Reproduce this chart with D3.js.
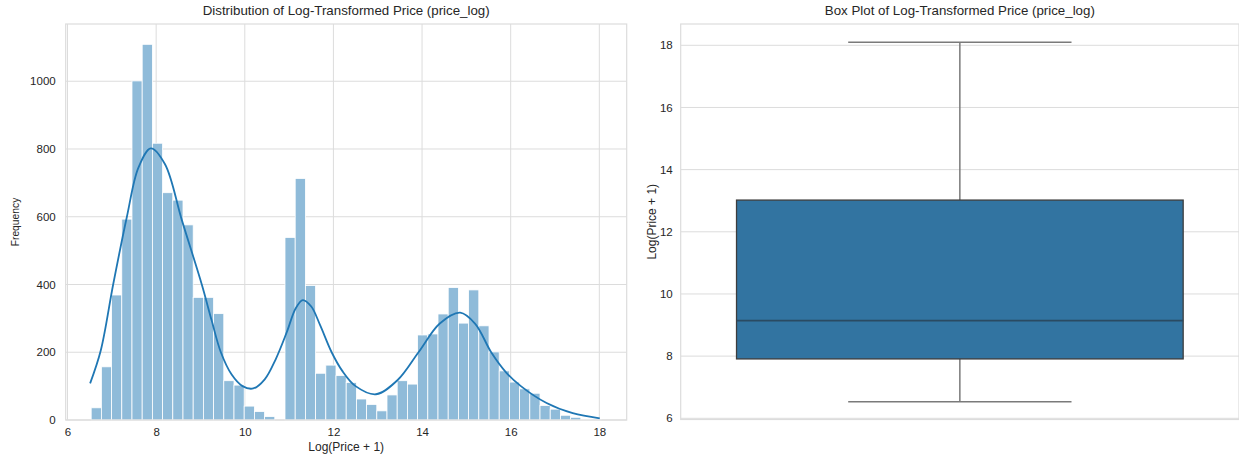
<!DOCTYPE html>
<html>
<head>
<meta charset="utf-8">
<script src="https://cdn.jsdelivr.net/npm/d3@7"></script>
<style>
  html, body { margin: 0; padding: 0; background: #fff; }
  svg { display: block; font-family: "Liberation Sans", Arial, sans-serif; }
</style>
</head>
<body>
<svg id="chart" width="1239" height="456"></svg>
<script>
// ---------- DATA ----------
const binStart = 6.534;
const binEnd = 18.043;
const histCounts = [36, 157, 369, 593, 1001, 1109, 817, 671, 649, 576,
                    362, 362, 314, 116, 103, 41, 25, 10, 0, 539,
                    713, 397, 138, 162, 131, 111, 62, 46, 27, 74,
                    116, 106, 251, 254, 313, 391, 286, 384, 278, 201,
                    145, 112, 92, 79, 43, 32, 14, 8, 2, 1];
const kdeX = [6.51, 6.75, 7.03, 7.34, 7.6, 7.88, 8.2, 8.58, 9.03, 9.25, 9.46, 9.7, 9.95, 10.19,
              10.45, 10.7, 10.95, 11.15, 11.31, 11.5, 11.7, 11.96, 12.2, 12.5, 12.96,
              13.45, 13.92, 14.4, 14.86, 15.2, 15.56, 15.9, 16.23, 16.81, 17.4, 18.01];
const kdeY = [108, 205, 400, 600, 745, 802, 755, 590, 400, 295, 200, 135, 100, 93,
              120, 180, 260, 330, 354, 335, 280, 200, 145, 100, 76,
              118, 200, 285, 317, 284, 200, 140, 100, 50, 20, 5];
const histXTicks = [6, 8, 10, 12, 14, 16, 18];
const histYTicks = [0, 200, 400, 600, 800, 1000];
const boxCategory = ["price_log"];
const boxStats = { min: 6.53, q1: 7.91, median: 9.14, q3: 13.02, max: 18.1 };
const boxYTicks = [6, 8, 10, 12, 14, 16, 18];
const titles = ["Distribution of Log-Transformed Price (price_log)", "Box Plot of Log-Transformed Price (price_log)"];
const xLabel = "Log(Price + 1)";
const yLabelHist = "Frequency";
const yLabelBox = "Log(Price + 1)";

// ---------- STYLE ----------
const gridColor = "#dcdcdc";
const textColor = "#262626";
const barFill = "#8fbbd9";
const lineColor = "#1f77b4";
const boxFill = "#3274a1";

const svg = d3.select("#chart");

// ---------- HISTOGRAM ----------
const H = { left: 65.7, right: 626.7, top: 24, bottom: 420 };
const x = d3.scaleLinear().domain([5.959, 18.618]).range([H.left, H.right]);
const y = d3.scaleLinear().domain([0, 1169]).range([H.bottom, H.top]);

const g1 = svg.append("g");
g1.append("g").selectAll("line").data(histXTicks).join("line")
  .attr("x1", d => x(d)).attr("x2", d => x(d)).attr("y1", H.top).attr("y2", H.bottom)
  .attr("stroke", gridColor).attr("stroke-width", 1);
g1.append("g").selectAll("line").data(histYTicks).join("line")
  .attr("x1", H.left).attr("x2", H.right).attr("y1", d => y(d)).attr("y2", d => y(d))
  .attr("stroke", gridColor).attr("stroke-width", 1);

const binW = (binEnd - binStart) / histCounts.length;
g1.append("g").selectAll("rect").data(histCounts).join("rect")
  .attr("x", (d, i) => x(binStart + i * binW))
  .attr("width", (d, i) => x(binStart + (i + 1) * binW) - x(binStart + i * binW))
  .attr("y", d => y(d))
  .attr("height", d => y(0) - y(d))
  .attr("fill", barFill)
  .attr("stroke", "#ffffff").attr("stroke-width", 0.8)
  .attr("display", d => d > 0 ? null : "none");

const kde = kdeX.map((v, i) => [v, kdeY[i]]);
g1.append("path").datum(kde)
  .attr("d", d3.line().x(d => x(d[0])).y(d => y(d[1])).curve(d3.curveCatmullRom.alpha(0.5)))
  .attr("fill", "none").attr("stroke", lineColor).attr("stroke-width", 1.8);

g1.append("rect").attr("x", H.left).attr("y", H.top)
  .attr("width", H.right - H.left).attr("height", H.bottom - H.top)
  .attr("fill", "none").attr("stroke", gridColor).attr("stroke-width", 1.2);

const xAxis = d3.axisBottom(x).tickValues(histXTicks).tickSize(0).tickPadding(8).tickFormat(d3.format("d"));
const gx = g1.append("g").attr("transform", `translate(0,${H.bottom})`).call(xAxis);
const yAxis = d3.axisLeft(y).tickValues(histYTicks).tickSize(0).tickPadding(10).tickFormat(d3.format("d"));
const gy = g1.append("g").attr("transform", `translate(${H.left},0)`).call(yAxis);
[gx, gy].forEach(a => {
  a.select(".domain").remove();
  a.selectAll("text").attr("fill", textColor).style("font-size", "11.5px").style("font-family", "Liberation Sans, Arial, sans-serif");
});

g1.append("text").attr("x", (H.left + H.right) / 2).attr("y", 15)
  .attr("text-anchor", "middle").attr("fill", textColor).style("font-size", "13.3px")
  .text(titles[0]);
g1.append("text").attr("x", (H.left + H.right) / 2).attr("y", 451)
  .attr("text-anchor", "middle").attr("fill", textColor).style("font-size", "12px")
  .text(xLabel);
g1.append("text").attr("transform", `translate(19,${(H.top + H.bottom) / 2}) rotate(-90)`)
  .attr("text-anchor", "middle").attr("fill", textColor).style("font-size", "10.3px")
  .text(yLabelHist);

// ---------- BOX PLOT ----------
const B = { left: 680.7, right: 1239, top: 24, bottom: 419.5 };
const bx = d3.scaleBand().domain(boxCategory).range([B.left, B.right]).paddingInner(0).paddingOuter(0);
const by = d3.scaleLinear().domain([5.961, 18.685]).range([B.bottom, B.top]);
const g2 = svg.append("g");

g2.append("g").selectAll("line").data(boxYTicks).join("line")
  .attr("x1", B.left).attr("x2", B.right).attr("y1", d => by(d)).attr("y2", d => by(d))
  .attr("stroke", gridColor).attr("stroke-width", 1);

g2.append("rect").attr("x", B.left).attr("y", B.top)
  .attr("width", B.right - B.left).attr("height", B.bottom - B.top)
  .attr("fill", "none").attr("stroke", gridColor).attr("stroke-width", 1.2);

const cat = boxCategory[0];
const cx = bx(cat) + bx.bandwidth() / 2;
const boxW = bx.bandwidth() * 0.8;
const capW = boxW / 2;
const whiskerColor = "#7a7a7a";
const edgeColor = "#3d3d3d";

g2.append("line").attr("x1", cx).attr("x2", cx).attr("y1", by(boxStats.q3)).attr("y2", by(boxStats.max))
  .attr("stroke", whiskerColor).attr("stroke-width", 1.5);
g2.append("line").attr("x1", cx).attr("x2", cx).attr("y1", by(boxStats.q1)).attr("y2", by(boxStats.min))
  .attr("stroke", whiskerColor).attr("stroke-width", 1.5);
g2.append("line").attr("x1", cx - capW / 2).attr("x2", cx + capW / 2).attr("y1", by(boxStats.max)).attr("y2", by(boxStats.max))
  .attr("stroke", whiskerColor).attr("stroke-width", 1.5);
g2.append("line").attr("x1", cx - capW / 2).attr("x2", cx + capW / 2).attr("y1", by(boxStats.min)).attr("y2", by(boxStats.min))
  .attr("stroke", whiskerColor).attr("stroke-width", 1.5);
g2.append("rect").attr("x", cx - boxW / 2).attr("width", boxW)
  .attr("y", by(boxStats.q3)).attr("height", by(boxStats.q1) - by(boxStats.q3))
  .attr("fill", boxFill).attr("stroke", edgeColor).attr("stroke-width", 1.3);
g2.append("line").attr("x1", cx - boxW / 2).attr("x2", cx + boxW / 2)
  .attr("y1", by(boxStats.median)).attr("y2", by(boxStats.median))
  .attr("stroke", "#2a4a62").attr("stroke-width", 1.8);

const byAxis = d3.axisLeft(by).tickValues(boxYTicks).tickSize(0).tickPadding(8).tickFormat(d3.format("d"));
const gby = g2.append("g").attr("transform", `translate(${B.left},0)`).call(byAxis);
gby.select(".domain").remove();
gby.selectAll("text").attr("fill", textColor).style("font-size", "11.5px").style("font-family", "Liberation Sans, Arial, sans-serif");

g2.append("text").attr("x", (B.left + B.right) / 2).attr("y", 15)
  .attr("text-anchor", "middle").attr("fill", textColor).style("font-size", "13.3px")
  .text(titles[1]);
g2.append("text").attr("transform", `translate(655.5,${(B.top + B.bottom) / 2}) rotate(-90)`)
  .attr("text-anchor", "middle").attr("fill", textColor).style("font-size", "12px")
  .text(yLabelBox);
</script>
</body>
</html>
